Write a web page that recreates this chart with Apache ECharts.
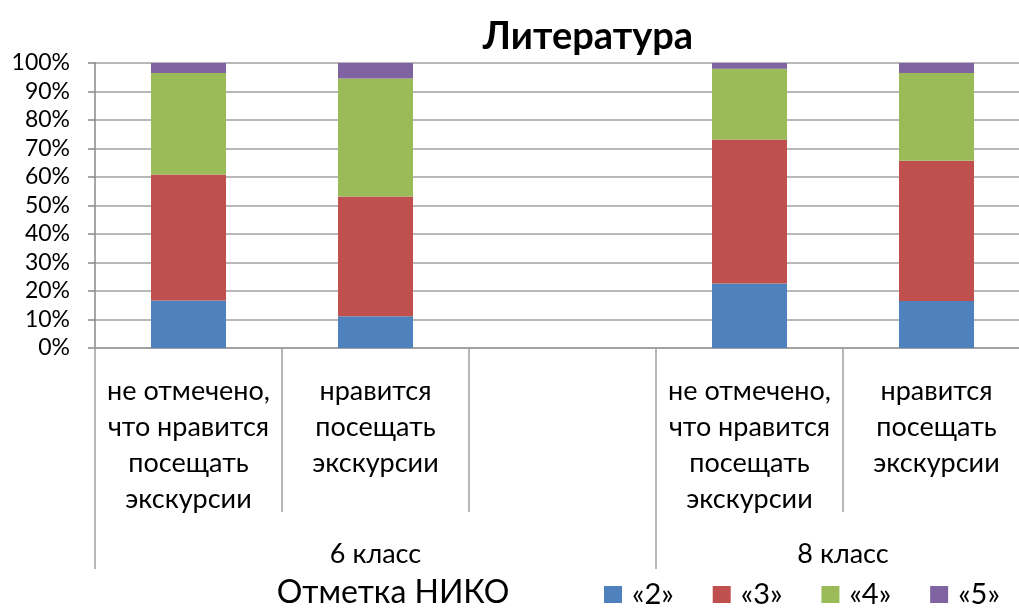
<!DOCTYPE html>
<html>
<head>
<meta charset="utf-8">
<script src="https://cdn.jsdelivr.net/npm/echarts@6/dist/echarts.min.js"></script>
<style>
html,body{margin:0;padding:0;background:#fff;width:1019px;height:608px;overflow:hidden;}
#chart{width:1030px;height:608px;}
</style>
</head>
<body>
<div id="chart"></div>
<script>
const chartTitle = 'Литература';
const axisTitle = 'Отметка НИКО';
const categories = [
  'не отмечено,\nчто нравится\nпосещать\nэкскурсии',
  'нравится\nпосещать\nэкскурсии',
  '',
  'не отмечено,\nчто нравится\nпосещать\nэкскурсии',
  'нравится\nпосещать\nэкскурсии'
];
const groupLabels = ['6 класс', '8 класс'];
const groupCenters = [1.5, 4];
const groupBounds = [0, 3, 5];
const seriesNames = ['«2»', '«3»', '«4»', '«5»'];
const grade2 = [16.7, 11.1, null, 22.6, 16.5];
const grade3 = [44.2, 42.1, null, 50.6, 49.2];
const grade4 = [35.6, 41.4, null, 24.8, 30.8];
const grade5 = [3.5, 5.4, null, 2.0, 3.5];
const yTicks = [0, 10, 20, 30, 40, 50, 60, 70, 80, 90, 100];

const colors = ['#4F81BD', '#C0504D', '#9BBB59', '#8064A2'];
const FONT = 'Lato';
const chart = echarts.init(document.getElementById('chart'), null, {renderer: 'canvas'});
const values = [grade2, grade3, grade4, grade5];

chart.setOption({
  animation: false,
  color: colors,
  textStyle: {fontFamily: FONT, color: '#000'},
  grid: {left: 95, top: 63, width: 935, height: 285, containLabel: false},
  graphic: [
    {type: 'text', style: {text: chartTitle, x: 588, y: 37, textAlign: 'center', textVerticalAlign: 'middle', font: 'bold 38px ' + FONT, fill: '#000'}},
    {type: 'text', style: {text: axisTitle, x: 393, y: 593, textAlign: 'center', textVerticalAlign: 'middle', font: '32px ' + FONT, fill: '#000'}}
  ],
  legend: {
    left: 604, top: 580, padding: 0,
    itemWidth: 18, itemHeight: 17, itemGap: 39,
    icon: 'rect',
    textStyle: {fontSize: 29, fontFamily: FONT, color: '#000', padding: [0, 0, 0, 5]},
    data: seriesNames
  },
  xAxis: [
    {
      type: 'category',
      data: categories,
      boundaryGap: true,
      axisLine: {show: true, lineStyle: {color: '#999', width: 1.5}},
      axisTick: {show: true, alignWithLabel: false, interval: 0, length: 164, lineStyle: {color: '#a0a0a0', width: 1.5}},
      axisLabel: {interval: 0, fontSize: 27, lineHeight: 36, margin: 25, color: '#000', fontFamily: FONT},
      splitLine: {show: false}
    },
    {
      type: 'value',
      min: 0, max: 5,
      position: 'bottom',
      axisLine: {show: false},
      splitLine: {show: false},
      axisTick: {show: true, customValues: groupBounds, length: 221, lineStyle: {color: '#a0a0a0', width: 1.5}},
      axisLabel: {
        show: true, customValues: groupCenters, margin: 193, fontSize: 27, color: '#000', fontFamily: FONT,
        formatter: function (v) { const i = groupCenters.indexOf(v); return i >= 0 ? groupLabels[i] : ''; }
      }
    }
  ],
  yAxis: {
    type: 'value',
    min: yTicks[0], max: yTicks[yTicks.length - 1], interval: 10,
    axisLine: {show: true, lineStyle: {color: '#888', width: 1.5}},
    axisTick: {show: true, length: 7, lineStyle: {color: '#888', width: 1.5}},
    axisLabel: {formatter: '{value}%', fontSize: 23, margin: 25, color: '#000', fontFamily: FONT},
    splitLine: {show: true, lineStyle: {color: '#a0a0a0', width: 1.5}}
  },
  series: values.map((d, i) => ({
    name: seriesNames[i],
    type: 'bar',
    stack: 'total',
    xAxisIndex: 0,
    barWidth: 75,
    data: d,
    itemStyle: {color: colors[i]}
  }))
});
</script>
</body>
</html>
